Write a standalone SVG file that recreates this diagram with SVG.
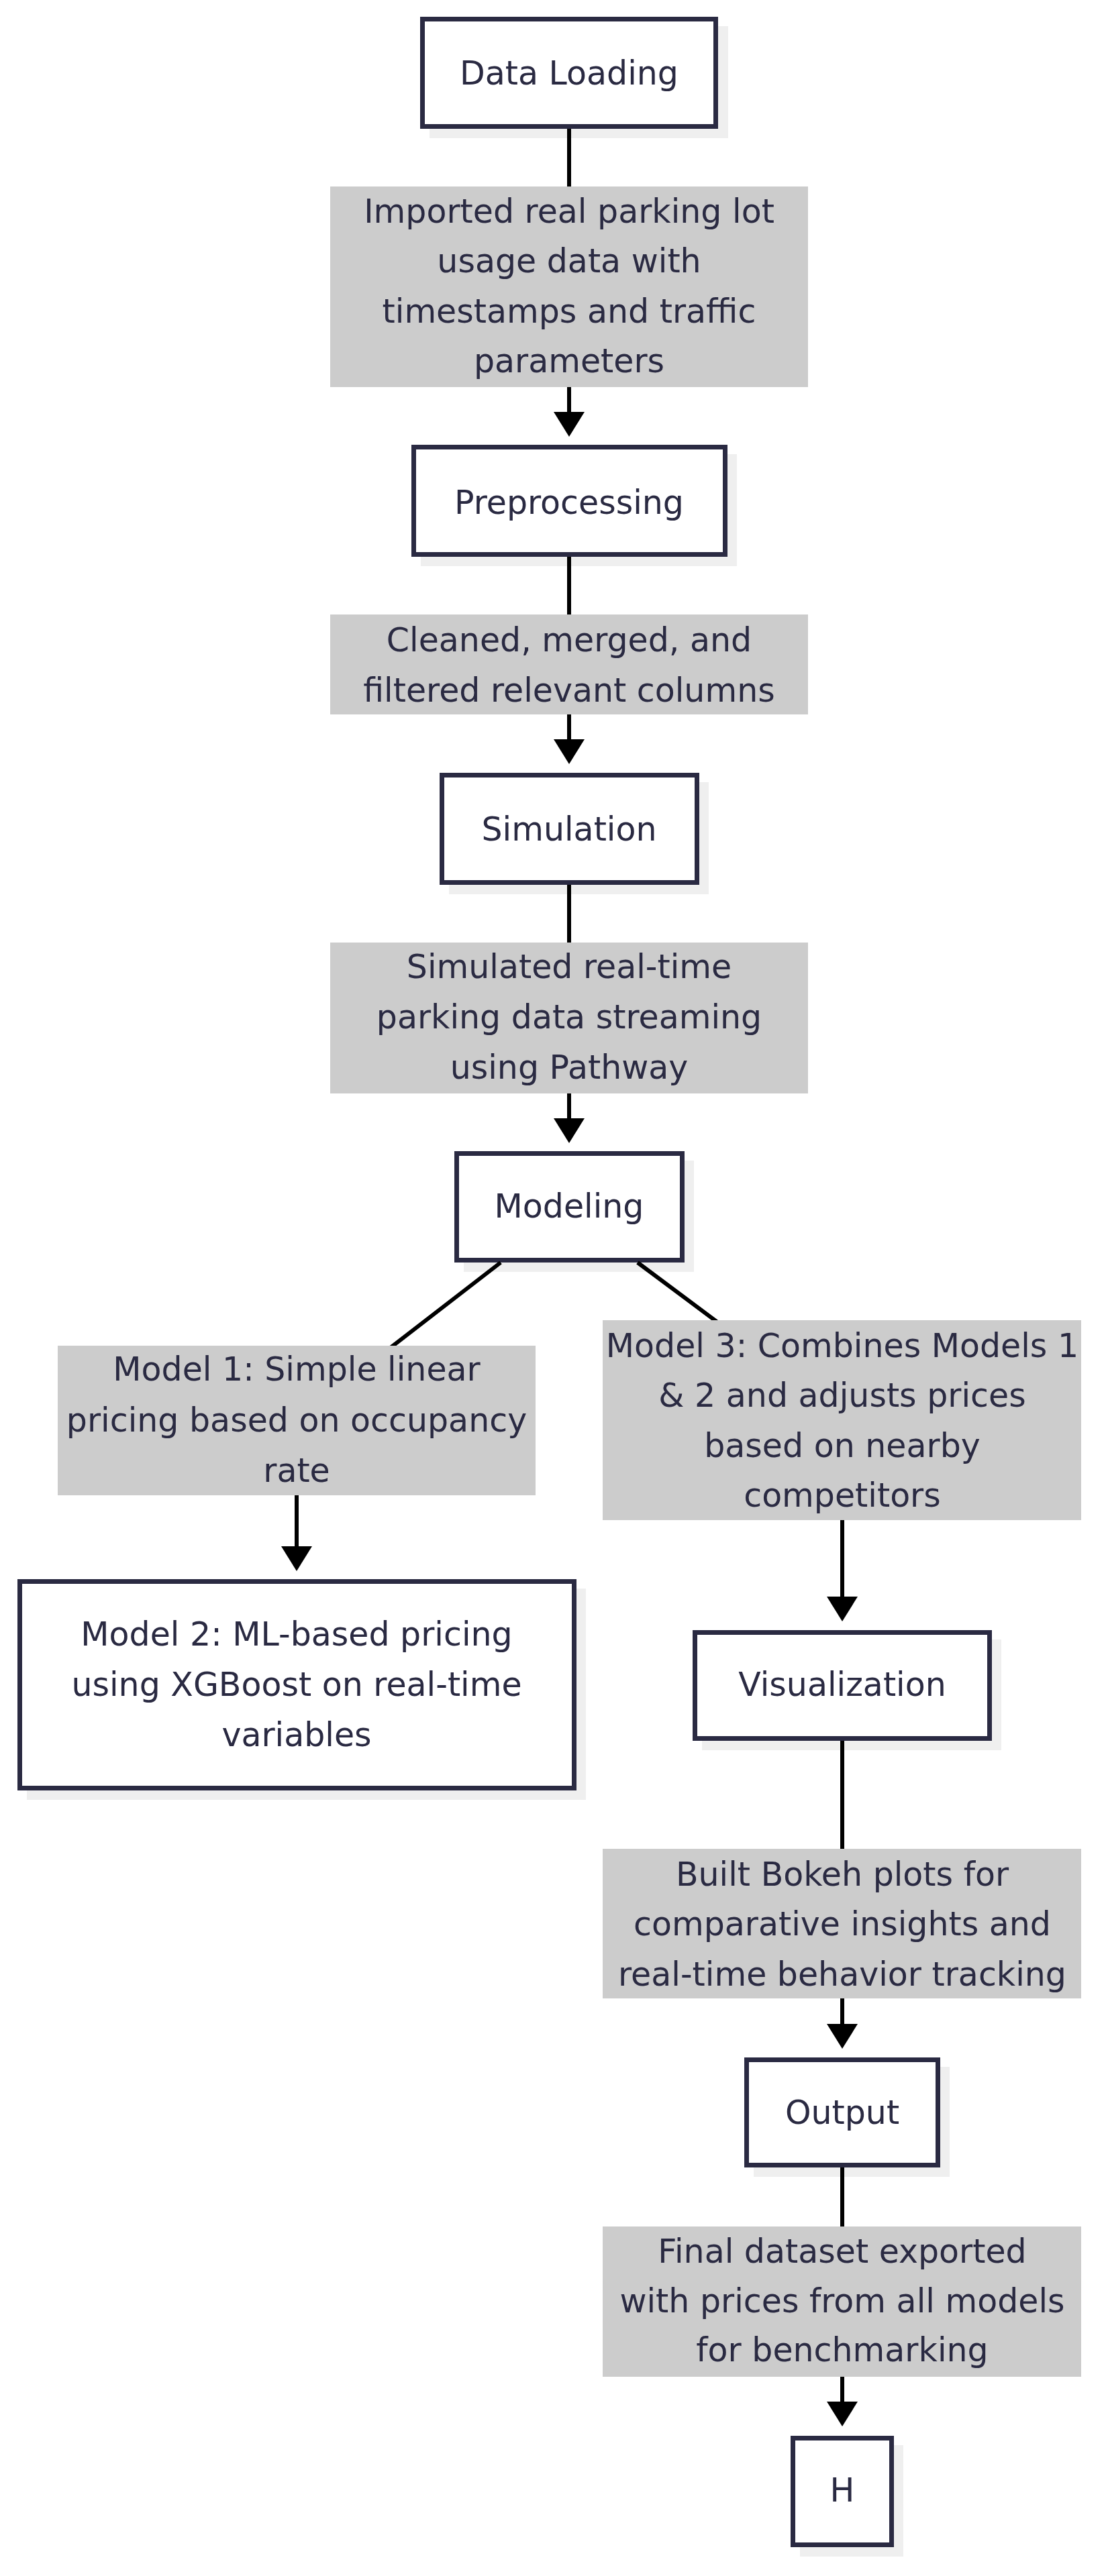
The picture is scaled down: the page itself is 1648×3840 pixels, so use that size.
<svg xmlns="http://www.w3.org/2000/svg" width="1648" height="3840" viewBox="0 0 1648 3840">
<style>
.b { fill:#ffffff; stroke:#2a2a42; stroke-width:7 }
.sh { fill:#efefef }
.lb { fill:#cccccc }
text { font-family:"DejaVu Sans", sans-serif; font-size:49px; fill:#2a2a42; text-anchor:middle }
.e { stroke:#000000; stroke-width:6; fill:none }
</style>
<defs>
<marker id="ah" markerUnits="userSpaceOnUse" markerWidth="38" markerHeight="46" viewBox="0 0 38 46" refX="1" refY="23" orient="auto">
<path d="M0,0 L37,23 L0,46 Z" fill="#000000"/>
</marker>
</defs>
<rect width="1648" height="3840" fill="#ffffff"/>
<g id="node-A">
<rect class="sh" x="640" y="39" width="445" height="167"/>
<rect class="b" x="629.5" y="28.5" width="437" height="160"/>
<text x="848" y="126">Data Loading</text>
</g>
<g id="node-B">
<rect class="sh" x="627" y="677" width="471" height="167"/>
<rect class="b" x="616.5" y="666.5" width="464" height="160"/>
<text x="848" y="766">Preprocessing</text>
</g>
<g id="node-C">
<rect class="sh" x="669" y="1166" width="387" height="167"/>
<rect class="b" x="658.5" y="1155.5" width="380" height="160"/>
<text x="848" y="1253">Simulation</text>
</g>
<g id="node-D">
<rect class="sh" x="691" y="1730" width="343" height="166"/>
<rect class="b" x="680.5" y="1719.5" width="336" height="159"/>
<text x="848" y="1815">Modeling</text>
</g>
<g id="node-E">
<rect class="sh" x="40" y="2368" width="833" height="315"/>
<rect class="b" x="29.5" y="2357.5" width="826" height="308"/>
<text x="442" y="2453">Model 2: ML-based pricing</text>
<text x="442" y="2528">using XGBoost on real-time</text>
<text x="442" y="2603">variables</text>
</g>
<g id="node-F">
<rect class="sh" x="1046" y="2444" width="446" height="165"/>
<rect class="b" x="1035.5" y="2433.5" width="439" height="158"/>
<text x="1255" y="2528">Visualization</text>
</g>
<g id="node-G">
<rect class="sh" x="1123" y="3081" width="292" height="164"/>
<rect class="b" x="1112.5" y="3070.5" width="285" height="157"/>
<text x="1255" y="3166">Output</text>
</g>
<g id="node-H">
<rect class="sh" x="1192" y="3645" width="154" height="166"/>
<rect class="b" x="1181.5" y="3634.5" width="147" height="159"/>
<text x="1255" y="3729">H</text>
</g>
<g id="connectors">
<path class="e" d="M848,192 V615" marker-end="url(#ah)"/>
<path class="e" d="M848,830 V1103" marker-end="url(#ah)"/>
<path class="e" d="M848,1319 V1668" marker-end="url(#ah)"/>
<path class="e" d="M746,1882 L442,2117 V2306" marker-end="url(#ah)"/>
<path class="e" d="M950,1882 L1255,2110 V2381" marker-end="url(#ah)"/>
<path class="e" d="M1255,2595 V3018" marker-end="url(#ah)"/>
<path class="e" d="M1255,3231 V3581" marker-end="url(#ah)"/>
</g>
<g id="label-load">
<rect class="lb" x="492" y="278" width="712" height="299"/>
<text x="848" y="332">Imported real parking lot</text>
<text x="848" y="406">usage data with</text>
<text x="848" y="481">timestamps and traffic</text>
<text x="848" y="555">parameters</text>
</g>
<g id="label-pre">
<rect class="lb" x="492" y="916" width="712" height="149"/>
<text x="848" y="971">Cleaned, merged, and</text>
<text x="848" y="1046">filtered relevant columns</text>
</g>
<g id="label-sim">
<rect class="lb" x="492" y="1405" width="712" height="225"/>
<text x="848" y="1458">Simulated real-time</text>
<text x="848" y="1533">parking data streaming</text>
<text x="848" y="1608">using Pathway</text>
</g>
<g id="label-m1">
<rect class="lb" x="86" y="2006" width="712" height="223"/>
<text x="442" y="2058">Model 1: Simple linear</text>
<text x="442" y="2134">pricing based on occupancy</text>
<text x="442" y="2209">rate</text>
</g>
<g id="label-m3">
<rect class="lb" x="898" y="1968" width="713" height="298"/>
<text x="1255" y="2023">Model 3: Combines Models 1</text>
<text x="1255" y="2097">&amp; 2 and adjusts prices</text>
<text x="1255" y="2172">based on nearby</text>
<text x="1255" y="2246">competitors</text>
</g>
<g id="label-vis">
<rect class="lb" x="898" y="2756" width="713" height="223"/>
<text x="1255" y="2811">Built Bokeh plots for</text>
<text x="1255" y="2885">comparative insights and</text>
<text x="1255" y="2960">real-time behavior tracking</text>
</g>
<g id="label-out">
<rect class="lb" x="898" y="3319" width="713" height="224"/>
<text x="1255" y="3373">Final dataset exported</text>
<text x="1255" y="3447">with prices from all models</text>
<text x="1255" y="3520">for benchmarking</text>
</g>
</svg>
